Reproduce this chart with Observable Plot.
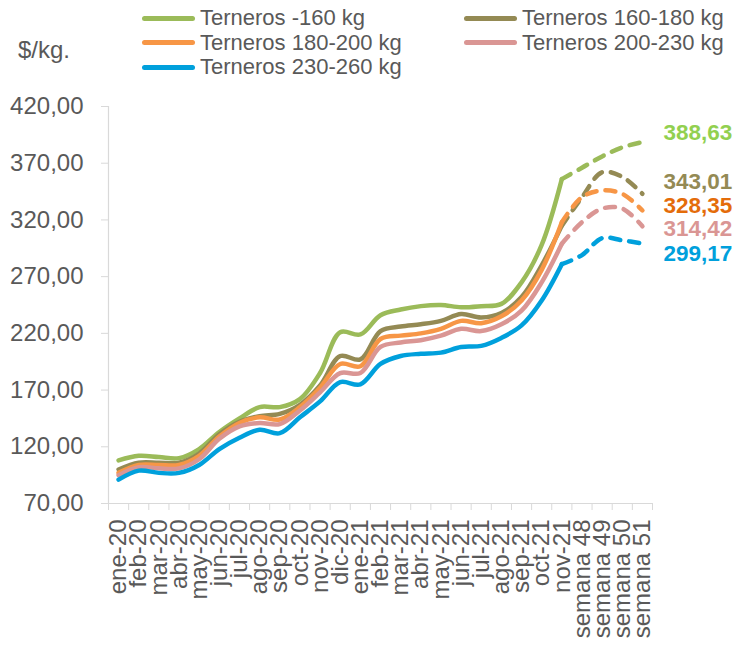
<!DOCTYPE html>
<html>
<head>
<meta charset="utf-8">
<script src="https://cdn.jsdelivr.net/npm/d3@7"></script>
<script src="https://cdn.jsdelivr.net/npm/@observablehq/plot@0.6"></script>
<style>
  body { margin: 0; background: #fff; font-family: "Liberation Sans", Arial, sans-serif; }
  #wrap { position: relative; width: 741px; height: 646px; overflow: hidden; }
  #chart { position: absolute; left: 0; top: 0; }
  .leg { position: absolute; display: flex; align-items: center; height: 22px; line-height: 22px; font-size: 22px; color: #595959; white-space: nowrap; }
  .sw { width: 53px; height: 5px; border-radius: 3px; margin-right: 5px; }
  #unit { position: absolute; left: 18px; top: 37px; font-size: 24px; line-height: 26px; color: #595959; }
</style>
</head>
<body>
<div id="wrap">
  <div id="chart"></div>
  <div id="unit">$/kg.</div>
</div>
<script>
const categories = ["ene-20","feb-20","mar-20","abr-20","may-20","jun-20","jul-20","ago-20","sep-20","oct-20","nov-20","dic-20",
  "ene-21","feb-21","mar-21","abr-21","may-21","jun-21","jul-21","ago-21","sep-21","oct-21","nov-21",
  "semana 48","semana 49","semana 50","semana 51"];
const seriesNames = ["Terneros -160 kg","Terneros 160-180 kg","Terneros 180-200 kg","Terneros 200-230 kg","Terneros 230-260 kg"];
const terneros160 = [108,112,111,110,118,133,145,155,155,162,185,221,219,236,241,244,245,243,244,246,265,298,356,366,376,384,388.63];
const terneros160_180 = [100,106,106,106,114,131,142,147,149,157,174,200,197,222,226,228,231,237,234,238,252,280,315,340,362,358,343.01];
const terneros180_200 = [97,104,104,104,112,129,141,146,144,155,172,193,191,215,218,220,224,231,229,235,249,276,318,340,346,343,328.35];
const terneros200_230 = [95,102,101,101,109,127,138,141,140,152,168,185,185,208,212,214,218,224,222,228,240,265,299,318,330,330,314.42];
const terneros230_260 = [91,99,97,97,104,118,128,135,132,146,160,177,175,193,200,202,203,208,209,216,227,249,281,289,304,302,299.17];
const yTicks = [70,120,170,220,270,320,370,420];
const lastMonth = "nov-21";

const seriesValues = [terneros160, terneros160_180, terneros180_200, terneros200_230, terneros230_260];
const lineColors = ["#9BBB59","#948A54","#F79646","#DA9694","#00A0DC"];
const labelColors = ["#92D050","#948A54","#E46C0A","#DA9694","#00A0DC"];
const labelNudge = [-9,-12,-5,3,10];
const legendPos = [[142,7],[464,7],[142,31.5],[464,31.5],[142,56]];

const fmt = v => v.toFixed(2).replace(".", ",");
const splitAt = categories.indexOf(lastMonth);
const n = categories.length;

const marks = [
  Plot.ruleY([yTicks[0]], {stroke: "#d9d9d9", strokeWidth: 1.2}),
  Plot.ruleX([-0.5], {stroke: "#d9d9d9", strokeWidth: 1.2}),
  Plot.axisY({ticks: yTicks, tickSize: 7, tickPadding: 18, tickFormat: fmt, stroke: "#d9d9d9", fill: "#595959", fontSize: 24, label: null}),
  Plot.axisX({ticks: d3.range(-0.5, n, 1), tickSize: 7, tickFormat: () => "", stroke: "#d9d9d9", label: null}),
  Plot.axisX({ticks: d3.range(n), tickSize: 0, tickPadding: 16, tickRotate: -90, tickFormat: i => categories[i], fill: "#595959", fontSize: 24, label: null})
];

seriesValues.forEach((vals, s) => {
  const pts = vals.map((v, i) => ({i, v}));
  marks.push(Plot.line(pts.filter(d => d.i <= splitAt), {x: "i", y: "v", stroke: lineColors[s], strokeWidth: 4.5, curve: "catmull-rom", strokeLinecap: "round", strokeLinejoin: "round"}));
  marks.push(Plot.line(pts.filter(d => d.i >= splitAt), {x: "i", y: "v", stroke: lineColors[s], strokeWidth: 4.5, curve: "catmull-rom", strokeDasharray: "10,9", strokeLinecap: "round"}));
});
seriesValues.forEach((vals, s) => {
  marks.push(Plot.text([{i: n - 1, v: vals[n - 1]}], {x: "i", y: "v", text: d => fmt(d.v), dx: 21, dy: labelNudge[s], textAnchor: "start", fill: labelColors[s], fontSize: 22.5, fontWeight: "bold"}));
});

const chart = Plot.plot({
  width: 741,
  height: 646,
  marginLeft: 108,
  marginRight: 89,
  marginTop: 106,
  marginBottom: 143,
  x: {type: "linear", domain: [-0.5, n - 0.5], axis: null, label: null},
  y: {domain: [70, 420], axis: null, label: null},
  style: {fontFamily: "'Liberation Sans', Arial, sans-serif", background: "#fff", overflow: "visible"},
  marks
});
document.getElementById("chart").appendChild(chart);

const wrap = document.getElementById("wrap");
seriesNames.forEach((name, s) => {
  const d = document.createElement("div");
  d.className = "leg";
  d.style.left = legendPos[s][0] + "px";
  d.style.top = legendPos[s][1] + "px";
  const sw = document.createElement("span");
  sw.className = "sw";
  sw.style.background = lineColors[s];
  d.appendChild(sw);
  d.appendChild(document.createTextNode(name));
  wrap.appendChild(d);
});
</script>
</body>
</html>
